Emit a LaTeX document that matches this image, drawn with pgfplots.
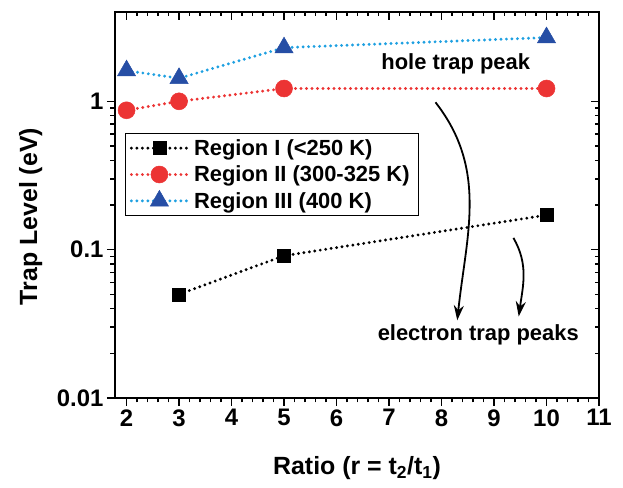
\documentclass[border=0pt]{standalone}
\usepackage{fontspec}
\setmainfont{Liberation Sans}
\usepackage{pgfplots}
\pgfplotsset{compat=1.18}
\usetikzlibrary{arrows.meta}
\definecolor{myred}{RGB}{236,52,52}
\definecolor{myblue}{RGB}{38,78,165}
\definecolor{mylblue}{RGB}{30,160,225}
\begin{document}
\begin{tikzpicture}
\begin{axis}[
  scale only axis, width=484bp, height=386bp,
  at={(0,0)}, anchor=south west,
  ymode=log,
  xmin=1.78, xmax=11, ymin=0.01, ymax=4,
  xtick={2,3,...,11}, minor x tick num=4,
  ytick={0.01,0.1,1},
  axis line style={line width=2bp},
  every tick/.style={black, line width=1.6bp},
  major tick length=8bp, minor tick length=4.5bp,
  tick align=outside, xtick pos=bottom, ytick pos=left,
  /pgf/number format/assume math mode=true,
  ticklabel style={font=\fontsize{24}{28}\selectfont\bfseries},
  yticklabels={0.01,0.1,1},
  xlabel={Ratio (r = t\textsubscript{2}/t\textsubscript{1})},
  ylabel={Trap Level (eV)},
  label style={font=\fontsize{25}{29}\selectfont\bfseries},
  xlabel style={at={(axis description cs:0.5,-0.181)}, anchor=center},
  ylabel style={at={(axis description cs:-0.174,0.47)}, anchor=center},
  legend style={at={(axis description cs:0.021,0.687)}, anchor=north west,
    draw=black, line width=1.3bp, font=\fontsize{22}{26}\selectfont\bfseries,
    row sep=5bp, inner sep=4bp,
    nodes={inner xsep=5bp}},
  legend cell align=left,
  legend image code/.code={\draw[mark repeat=2,mark phase=2,#1] plot coordinates {(0bp,0bp) (28bp,0bp) (56bp,0bp)};},
  clip=false,
]
\addplot[black, line width=3.2bp, dash pattern=on 0bp off 5.5bp, line cap=round,
  mark=square*, mark size=6.5bp, mark options={solid, fill=black, draw=black, line width=0.5bp}]
  coordinates {(3,0.05) (5,0.091) (10,0.171)};
\addlegendentry{Region I (<250 K)}
\addplot[myred, line width=3.2bp, dash pattern=on 0bp off 5.5bp, line cap=round,
  mark=*, mark size=8.5bp, mark options={solid, fill=myred, draw=myred, line width=0.5bp}]
  coordinates {(2,0.87) (3,1.0) (5,1.22) (10,1.22)};
\addlegendentry{Region II (300-325 K)}
\addplot[mylblue, line width=3.2bp, dash pattern=on 0bp off 5.5bp, line cap=round,
  mark=triangle*, mark size=10.5bp, mark options={solid, fill=myblue, draw=myblue, line width=0.5bp}]
  coordinates {(2,1.61) (3,1.43) (5,2.3) (10,2.69)};
\addlegendentry{Region III (400 K)}
\node[font=\fontsize{22}{26}\selectfont\bfseries] at (axis cs:8.27,1.80) {hole trap peak};
\node[font=\fontsize{22}{26}\selectfont\bfseries] at (axis cs:8.70,0.0265) {electron trap peaks};
\draw[line width=1.8bp, -{Stealth[length=15bp,width=10bp]}] (axis cs:7.885,0.985) to[out=-52,in=84] (axis cs:8.30,0.0334);
\draw[line width=1.8bp, -{Stealth[length=15bp,width=10bp]}] (axis cs:9.37,0.12) to[out=-60,in=82] (axis cs:9.47,0.0355);
\end{axis}
\begin{axis}[
  scale only axis, width=484bp, height=386bp,
  at={(0,0)}, anchor=south west,
  ymode=log,
  xmin=1.78, xmax=11, ymin=0.01, ymax=4,
  xtick={2,3,...,11}, minor x tick num=4,
  ytick={0.01,0.1,1},
  axis line style={line width=2bp},
  every tick/.style={black, line width=1.6bp},
  major tick length=8bp, minor tick length=4.5bp,
  tick align=inside, xtick pos=top, ytick pos=right,
  xticklabels={}, yticklabels={},
]
\end{axis}
\path (-115bp,-90bp) rectangle (508bp,398bp);
\end{tikzpicture}
\end{document}
